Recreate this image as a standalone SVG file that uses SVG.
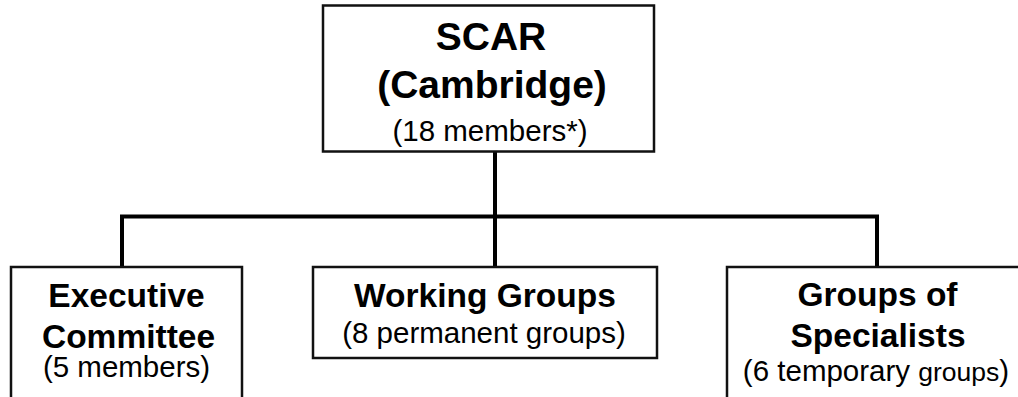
<svg xmlns="http://www.w3.org/2000/svg" width="1018" height="397" viewBox="0 0 1018 397">
<style>
.box{fill:#fff;stroke:#111;stroke-width:2.5}
.conn{fill:none;stroke:#000;stroke-width:4}
text{font-family:"Liberation Sans",Arial,sans-serif;fill:#000;text-anchor:middle}
.t{font-weight:bold;font-size:39px}
.h{font-weight:bold;font-size:33.5px}
.s{font-size:29.5px}
.sm{font-size:26.5px}
</style>
<rect width="1018" height="397" fill="#fff"/>
<g id="connectors">
<path class="conn" d="M495 152 V267"/>
<path class="conn" d="M122 267 V216.5 H877 V267"/>
</g>
<g id="scar">
<rect class="box" x="323" y="5.5" width="331" height="146"/>
<text class="t" x="491" y="49.5">SCAR</text>
<text class="t" x="492" y="98">(Cambridge)</text>
<text class="s" x="490" y="140.5">(18 members*)</text>
</g>
<g id="executive">
<rect class="box" x="11" y="267" width="231" height="140"/>
<text class="h" x="126.5" y="307">Executive</text>
<text class="h" x="128.5" y="347.5">Committee</text>
<text class="s" x="126.5" y="377">(5 members)</text>
</g>
<g id="working">
<rect class="box" x="313" y="267" width="344" height="91"/>
<text class="h" x="485" y="307.3">Working Groups</text>
<text class="s" x="484" y="342.7">(8 permanent groups)</text>
</g>
<g id="specialists">
<rect class="box" x="727" y="267" width="300" height="140"/>
<text class="h" x="877.5" y="306">Groups of</text>
<text class="h" x="878" y="346.5">Specialists</text>
<text class="s" x="876" y="381">(6 temporary <tspan class="sm">groups</tspan>)</text>
</g>
</svg>
